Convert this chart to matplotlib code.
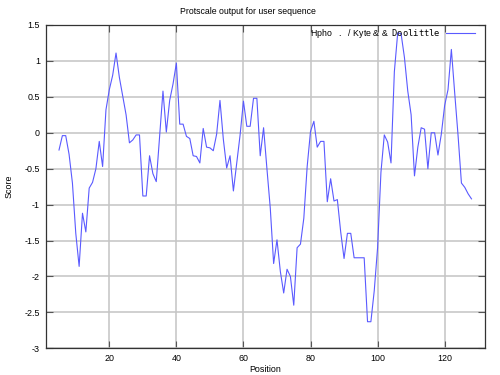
import matplotlib
matplotlib.use("Agg")
import matplotlib.pyplot as plt

positions = list(range(5, 129))
scores = [
    -0.24, -0.04, -0.04, -0.30, -0.70, -1.40, -1.86, -1.12, -1.38, -0.77,   # 5-14
    -0.69, -0.50, -0.12, -0.47, 0.32, 0.60, 0.80, 1.11, 0.77, 0.51,         # 15-24
    0.25, -0.14, -0.10, -0.03, -0.03, -0.88, -0.88, -0.32, -0.57, -0.68,    # 25-34
    -0.05, 0.58, 0.01, 0.45, 0.68, 0.97, 0.12, 0.12, -0.05, -0.08,          # 35-44
    -0.32, -0.33, -0.42, 0.06, -0.20, -0.21, -0.25, -0.02, 0.45, -0.09,     # 45-54
    -0.49, -0.32, -0.81, -0.42, -0.03, 0.44, 0.09, 0.09, 0.48, 0.48,        # 55-64
    -0.32, 0.07, -0.50, -1.05, -1.82, -1.49, -1.93, -2.23, -1.90, -2.00,    # 65-74
    -2.40, -1.60, -1.55, -1.19, -0.47, 0.02, 0.16, -0.20, -0.12, -0.12,     # 75-84
    -0.96, -0.64, -0.95, -0.93, -1.38, -1.75, -1.40, -1.40, -1.74, -1.74,   # 85-94
    -1.74, -1.74, -2.63, -2.63, -2.20, -1.60, -0.55, -0.03, -0.13, -0.42,   # 95-104
    0.85, 1.39, 1.38, 1.05, 0.58, 0.25, -0.60, -0.20, 0.07, 0.05,           # 105-114
    -0.50, 0.00, 0.00, -0.31, -0.02, 0.38, 0.60, 1.16, 0.55, -0.04,         # 115-124
    -0.70, -0.76, -0.85, -0.92,                                             # 125-128
]
x_ticks = [20, 40, 60, 80, 100, 120]
y_ticks = [-3, -2.5, -2, -1.5, -1, -0.5, 0, 0.5, 1, 1.5]
y_tick_labels = ["-3", "-2.5", "-2", "-1.5", "-1", "-0.5", "0", "0.5", "1", "1.5"]
title = "Protscale output for user sequence"
legend_label = "Hpho   .   / Kyte & &  $\\mathtt{Doolittle}$"

plt.rcParams["font.family"] = ["Liberation Sans", "DejaVu Sans"]
plt.rcParams["mathtext.fontset"] = "dejavusans"

fig = plt.figure(figsize=(5, 3.75), dpi=100)
W, H = 500, 375
left, right, top, bottom = 45.6, 484.9, 25.0, 348.3
ax = fig.add_axes([left / W, 1 - bottom / H, (right - left) / W, (bottom - top) / H])

ax.plot(positions, scores, color="#5a5aff", lw=0.8, label=legend_label, zorder=3)

ax.set_xlim(1, 132)
ax.set_ylim(-3, 1.5)
ax.set_xticks(x_ticks)
ax.set_xticklabels([str(t) for t in x_ticks])
ax.set_yticks(y_ticks)
ax.set_yticklabels(y_tick_labels)

ax.grid(True, color="#c4c4c4", lw=1.1, zorder=1)
ax.set_axisbelow(True)
ax.tick_params(direction="in", length=5, width=0.8, color="#555555",
               top=True, right=True, labelsize=6.4, pad=4)
for s in ax.spines.values():
    s.set_color("#333333")
    s.set_linewidth(0.9)

ax.set_xlabel("Position", fontsize=6.4)
ax.xaxis.set_label_coords(0.5, -0.052)
ax.set_ylabel("Score", fontsize=6.4)
ax.yaxis.set_label_coords(-0.074, 0.5)

fig.text(248 / W, 1 - 11.7 / H, title, fontsize=6.3, ha="center", va="center")

ax.legend(loc="upper right", bbox_to_anchor=(1 - 10 / (right - left), 1 - 2 / (bottom - top)),
          frameon=False, markerfirst=False, fontsize=6.3, handlelength=3.3,
          handletextpad=0.6, borderaxespad=0, borderpad=0)

fig.savefig("out.png", dpi=100, facecolor="white")
